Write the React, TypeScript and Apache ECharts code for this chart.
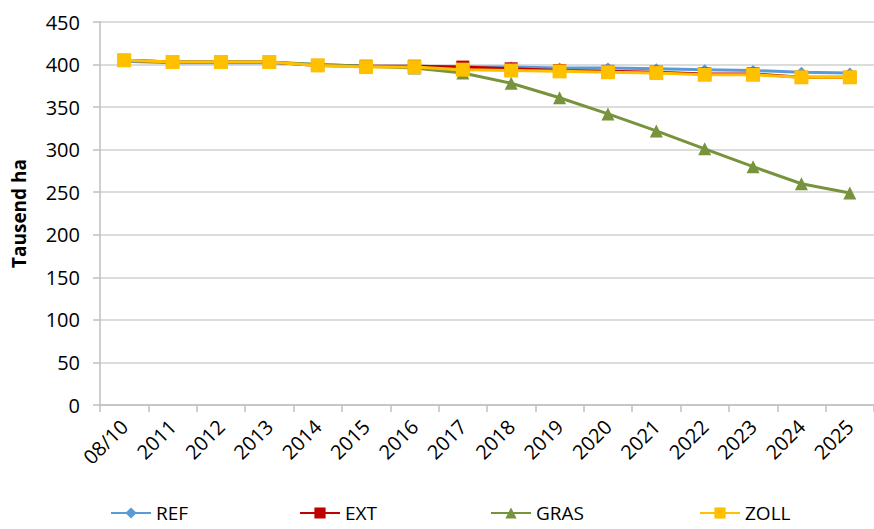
import React, { useEffect, useRef } from "react";
import * as echarts from "echarts";

const categories = ["08/10", "2011", "2012", "2013", "2014", "2015", "2016", "2017", "2018", "2019", "2020", "2021", "2022", "2023", "2024", "2025"];
const refValues = [404, 402, 402, 402, 400, 398, 398, 397, 397, 396, 396, 395, 394, 393, 391, 390];
const extValues = [405, 403, 403, 403, 399, 398, 398, 397, 395, 393, 392, 391, 389, 389, 385, 385];
const grasValues = [405, 403, 403, 403, 400, 398, 396, 390, 378, 361, 342, 322, 301, 280, 260, 249];
const zollValues = [405, 403, 403, 403, 399, 397, 397, 394, 393, 392, 391, 390, 388, 388, 385, 385];
const yTicks = { min: 0, max: 450, interval: 50 };
const yAxisTitle = "Tausend ha";

const FONT = "'Open Sans', sans-serif";

export default function App() {
  const ref = useRef<HTMLDivElement>(null);
  useEffect(() => {
    if (!ref.current) return;
    const chart = echarts.init(ref.current, null, { renderer: "svg" });
    const mk = (name: string, data: number[], color: string, symbol: string, size: number) => ({
      name,
      type: "line",
      data,
      symbol,
      symbolSize: size,
      showAllSymbol: true,
      lineStyle: { color, width: 3 },
      itemStyle: { color },
    });
    const legendBase = {
      top: 501,
      padding: 0,
      itemWidth: 40,
      itemHeight: 14,
      itemGap: 4,
      textStyle: { fontFamily: FONT, fontSize: 19, color: "#000", lineHeight: 24 },
    };
    chart.setOption({
      animation: false,
      backgroundColor: "#fff",
      grid: { left: 100, top: 22, width: 782, height: 383, containLabel: false },
      xAxis: {
        type: "category",
        data: categories,
        boundaryGap: true,
        axisLine: { lineStyle: { color: "#bfbfbf", width: 1.5 } },
        axisTick: { show: true, length: 7, lineStyle: { color: "#bfbfbf", width: 1.5 } },
        axisLabel: { rotate: 45, fontFamily: FONT, fontSize: 20, color: "#000", interval: 0, margin: 18 },
      },
      yAxis: {
        type: "value",
        min: yTicks.min,
        max: yTicks.max,
        interval: yTicks.interval,
        name: yAxisTitle,
        nameLocation: "middle",
        nameGap: 72,
        nameTextStyle: { fontFamily: FONT, fontSize: 19, fontWeight: "bold", color: "#000" },
        axisLine: { show: true, lineStyle: { color: "#bfbfbf", width: 1.5 } },
        axisTick: { show: true, length: 7, lineStyle: { color: "#bfbfbf", width: 1.5 } },
        axisLabel: { fontFamily: FONT, fontSize: 20, color: "#000", margin: 20 },
        splitLine: { lineStyle: { color: "#d0d0d0", width: 1.5 } },
      },
      legend: [
        { ...legendBase, left: 110, data: ["REF"] },
        { ...legendBase, left: 299, data: ["EXT"] },
        { ...legendBase, left: 490, data: ["GRAS"] },
        { ...legendBase, left: 699, data: ["ZOLL"] },
      ],
      series: [
        mk("REF", refValues, "#5b9bd5", "diamond", 11),
        mk("EXT", extValues, "#c00000", "rect", 13),
        mk("GRAS", grasValues, "#77933c", "triangle", 13),
        mk("ZOLL", zollValues, "#ffc000", "rect", 14),
      ],
    });
    return () => chart.dispose();
  }, []);
  return <div ref={ref} style={{ width: 874, height: 529, position: "absolute", left: 0, top: 0 }} />;
}
